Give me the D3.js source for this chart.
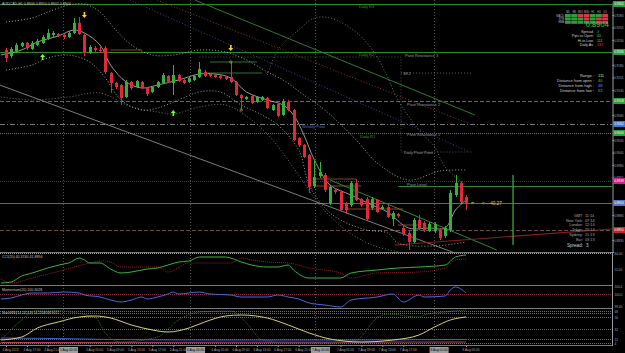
<!DOCTYPE html>
<html>
<head>
<meta charset="utf-8">
<script src="https://cdn.jsdelivr.net/npm/d3@7"></script>
<style>
html, body { margin: 0; padding: 0; background: #000; }
svg { display: block; font-family: "Liberation Sans", "DejaVu Sans", sans-serif; }
</style>
</head>
<body>
<div id="chart"></div>
<script>
// ---------- data (AUDCAD H1) ----------
// one row per bar: [open, high, low, close]
const ohlc = [
  [0.9210,0.9214,0.9186,0.9194],[0.9198,0.9216,0.9194,0.9212],[0.9208,0.9224,0.9204,0.9220],[0.9218,0.9226,0.9216,0.9224],
  [0.9224,0.9226,0.9210,0.9214],[0.9212,0.9228,0.9210,0.9224],[0.9220,0.9232,0.9218,0.9228],[0.9224,0.9240,0.9222,0.9236],
  [0.9232,0.9252,0.9230,0.9244],[0.9240,0.9248,0.9236,0.9244],[0.9242,0.9244,0.9236,0.9238],[0.9240,0.9242,0.9232,0.9236],
  [0.9236,0.9248,0.9234,0.9244],[0.9244,0.9274,0.9242,0.9264],[0.9264,0.9276,0.9240,0.9242],[0.9240,0.9242,0.9198,0.9204],
  [0.9204,0.9220,0.9202,0.9216],[0.9214,0.9218,0.9204,0.9210],[0.9210,0.9216,0.9204,0.9208],[0.9214,0.9218,0.9162,0.9166],
  [0.9164,0.9166,0.9124,0.9144],[0.9144,0.9146,0.9132,0.9136],[0.9140,0.9142,0.9100,0.9114],[0.9116,0.9150,0.9114,0.9146],
  [0.9146,0.9148,0.9130,0.9134],[0.9136,0.9150,0.9134,0.9148],[0.9146,0.9148,0.9132,0.9134],[0.9134,0.9136,0.9118,0.9122],
  [0.9126,0.9138,0.9124,0.9136],[0.9136,0.9148,0.9134,0.9146],[0.9144,0.9164,0.9142,0.9160],[0.9158,0.9160,0.9144,0.9146],
  [0.9144,0.9180,0.9120,0.9160],[0.9160,0.9162,0.9146,0.9148],[0.9150,0.9152,0.9142,0.9144],[0.9146,0.9156,0.9144,0.9154],
  [0.9150,0.9160,0.9148,0.9158],[0.9156,0.9186,0.9154,0.9172],[0.9166,0.9170,0.9156,0.9158],[0.9162,0.9164,0.9156,0.9158],
  [0.9160,0.9162,0.9154,0.9156],[0.9158,0.9160,0.9152,0.9154],[0.9156,0.9158,0.9150,0.9152],[0.9156,0.9186,0.9144,0.9146],
  [0.9146,0.9148,0.9118,0.9120],[0.9120,0.9122,0.9090,0.9114],[0.9112,0.9118,0.9110,0.9116],[0.9118,0.9120,0.9102,0.9104],
  [0.9106,0.9118,0.9104,0.9116],[0.9110,0.9118,0.9108,0.9116],[0.9114,0.9116,0.9092,0.9094],[0.9090,0.9102,0.9088,0.9100],
  [0.9102,0.9104,0.9076,0.9078],[0.9080,0.9112,0.9078,0.9108],[0.9106,0.9110,0.9088,0.9090],[0.9090,0.9092,0.9028,0.9030],
  [0.9034,0.9036,0.9016,0.9020],[0.9020,0.9022,0.8994,0.8996],[0.9000,0.9002,0.8924,0.8936],[0.8938,0.8990,0.8934,0.8956],
  [0.8958,0.8986,0.8954,0.8966],[0.8960,0.8964,0.8926,0.8930],[0.8904,0.8940,0.8900,0.8936],[0.8930,0.8934,0.8922,0.8926],
  [0.8926,0.8930,0.8886,0.8890],[0.8902,0.8906,0.8882,0.8890],[0.8900,0.8948,0.8896,0.8944],[0.8944,0.8952,0.8908,0.8910],
  [0.8912,0.8914,0.8896,0.8900],[0.8912,0.8916,0.8870,0.8872],[0.8894,0.8916,0.8890,0.8912],[0.8910,0.8912,0.8884,0.8886],
  [0.8892,0.8900,0.8890,0.8896],[0.8896,0.8900,0.8874,0.8876],[0.8872,0.8888,0.8858,0.8884],[0.8882,0.8884,0.8874,0.8878],
  [0.8854,0.8858,0.8838,0.8842],[0.8844,0.8848,0.8810,0.8826],[0.8826,0.8874,0.8824,0.8870],[0.8870,0.8880,0.8850,0.8854],
  [0.8864,0.8868,0.8846,0.8850],[0.8848,0.8866,0.8846,0.8862],[0.8848,0.8866,0.8844,0.8862],[0.8850,0.8854,0.8830,0.8834],
  [0.8838,0.8858,0.8834,0.8854],[0.8850,0.8930,0.8846,0.8924],[0.8920,0.8960,0.8916,0.8944],[0.8944,0.8948,0.8904,0.8906],
  [0.8916,0.8920,0.8890,0.8904]
];
const lastPrice = 0.8904;

// moving average and envelope curves: [bar, price]
const maFast = [[-1,0.9200],[3,0.9210],[6,0.9226],[10,0.9238],[13,0.9250],[15,0.9244],[18,0.9220],[20,0.9180],[23,0.9146],
  [26,0.9134],[29,0.9140],[33,0.9150],[37,0.9162],[40,0.9162],[43,0.9154],[46,0.9126],[50,0.9110],[53,0.9100],[55,0.9080],
  [57,0.9040],[59,0.8990],[62,0.8940],[66,0.8920],[70,0.8900],[73,0.8886],[77,0.8854],[81,0.8854],[84,0.8854],[86,0.8890],[88,0.8910]];
const bandUpper = [[0,0.9266],[5,0.9274],[8,0.9286],[12,0.9300],[15,0.9302],[18,0.9286],[21,0.9250],[24,0.9220],[28,0.9200],
  [32,0.9200],[37,0.9210],[42,0.9206],[46,0.9190],[50,0.9166],[53,0.9150],[57,0.9120],[61,0.9090],[67,0.9030],[71,0.8984],
  [77,0.8950],[83,0.8968],[88,0.8970]];
const bandLower = [[0,0.9170],[5,0.9180],[8,0.9194],[12,0.9200],[16,0.9186],[19,0.9154],[22,0.9110],[26,0.9090],[29,0.9094],
  [33,0.9110],[37,0.9126],[41,0.9126],[45,0.9100],[49,0.9080],[52,0.9060],[56,0.9010],[58,0.8940],[61,0.8894],[64,0.8870],
  [69,0.8850],[73,0.8844],[75,0.8824],[82,0.8818],[88,0.8826]];
const outerUpper = [[50,0.9160],[52,0.9210],[56,0.9250],[59,0.9274],[62,0.9274],[65,0.9260],[68,0.9236],[71,0.9196],[73,0.9156],
  [75,0.9110],[79,0.9050],[82,0.9016],[84,0.8976],[88,0.8940]];
const outerLower = [[-1,0.9116],[5,0.9110],[12,0.9116],[18,0.9124],[24,0.9096],[29,0.9086],[32,0.9082],[37,0.9096],[42,0.9100],
  [47,0.9070],[51,0.9030],[56,0.8960],[60,0.8900],[65,0.8850],[70,0.8820],[75,0.8806]];

// trend lines: two anchor points [bar, price]
const trendNames = ["channel", "greenUpper", "redDotted", "blueDotted", "greenLower", "redLower"];
const trendPoints = [
  [[-1.2,0.9140],[85.9,0.8804]],
  [[36.1,0.9310],[89.7,0.9080]],
  [[28.9,0.9310],[88.7,0.9062]],
  [[23.7,0.9310],[88.7,0.9006]],
  [[62.0,0.8950],[93.9,0.8810]],
  [[74.4,0.8820],[115.9,0.8852]]
];

// pivot levels
const levelNames  = ["Daily R3", "Daily R2", "Pivot Resistance 2", "Weekly Pivot", "Daily R1", "Pivot Level", "Bid", "Support"];
const levelPrices = [0.9302, 0.9206, 0.9108, 0.9062, 0.9044, 0.8948, 0.8904, 0.8850];
const dailyPivot = 0.8938;

// short support / resistance segments: [fromBar, toBar, price]
const segGreen = [[38,49,0.9164],[39,48,0.9186]];
const segBrown = [[20,26,0.9210],[59,67,0.8952],[59,68,0.8938],[65,76,0.8892],[75,79,0.8860]];

// fractal arrows and markers
const arrowsUp = [[7,0.9196],[32,0.9084]];
const arrowsDown = [[15,0.9280],[43,0.9214]];
const markers = [[43,0.9186],[45,0.9090]];
const projection = {bar: 97, hi: 0.8960, lo: 0.8820};

// day separators (bar positions) and time axis
const daySeparators = [10.9, 35.2, 59.1, 81.8];
const dayLabels = ["5 Aug 00:00", "6 Aug 00:00", "7 Aug 00:00", "8 Aug 00:00"];
const timeBars = [0,4,8,16,20,24,28,32,40,44,48,52,56,64,68,72,76,88];
const timeLabels = ["4 Aug 2013","4 Aug 17:00","4 Aug 21:00","5 Aug 05:00","5 Aug 09:00","5 Aug 13:00",
  "5 Aug 17:00","5 Aug 21:00","6 Aug 05:00","6 Aug 09:00","6 Aug 13:00","6 Aug 17:00","6 Aug 21:00",
  "7 Aug 05:00","7 Aug 09:00","7 Aug 13:00","7 Aug 17:00","8 Aug 05:00"];
const priceTicks = [0.9280,0.9255,0.9230,0.9180,0.9155,0.9130,0.9080,0.9030,0.9005,0.8980,0.8955,0.8880,0.8830];

// indicator 1 (two lines) : [bar, value]
const ind1Main = [[-1,24],[1,26],[3,38],[5,44],[8,54],[11,62],[12,64],[14,74],[15,70],[16,64],[18,64],[20,52],[22,44],[24,46],
  [27,52],[29,54],[31,60],[33,66],[35,68],[37,76],[40,76],[42,76],[45,66],[47,60],[50,56],[52,56],[54,60],[55,50],[58,34],
  [61,34],[64,34],[66,44],[71,50],[75,54],[79,56],[84,60],[86,76],[88,80]];
const ind1Signal = [[-1,32],[1,24],[5,34],[11,50],[13,56],[19,68],[20,66],[22,56],[29,56],[31,46],[35,64],[37,64],[43,64],
  [45,74],[47,70],[50,66],[54,64],[58,54],[64,44],[66,34],[71,44],[79,46],[84,54],[86,70],[88,72]];
// indicator 2 (momentum)
const momentum = [[-1,99.75],[1,99.80],[3,99.95],[5,100.05],[8,100.05],[11,100.10],[14,100.05],[15,99.95],[18,99.85],[20,99.70],
  [22,99.60],[24,99.70],[26,99.85],[27,99.75],[29,99.85],[31,100.00],[32,100.10],[33,100.00],[37,100.10],[39,100.00],[43,99.95],
  [45,99.85],[50,99.85],[52,99.95],[54,99.85],[56,99.75],[58,99.55],[61,99.45],[64,99.35],[66,99.70],[71,99.85],[74,100.00],
  [76,99.60],[79,99.95],[80,99.85],[84,99.90],[85,100.20],[86,100.35],[88,100.05]];
// indicator 3
const ind3Yellow = [[-1,10],[3,16],[6,34],[10,46],[14,56],[17,58],[20,54],[24,40],[28,30],[31,26],[35,34],[38,46],[42,58],
  [45,60],[50,54],[54,40],[58,24],[62,12],[68,6],[74,10],[79,20],[82,36],[85,50],[88,56]];
const ind3Green = [[-1,10],[3,50],[5,66],[7,70],[17,56],[19,24],[22,6],[29,16],[33,50],[37,66],[43,68],[46,44],[49,10],
  [54,4],[62,4],[67,10],[71,54],[73,62],[79,56],[80,60],[84,66],[88,70]];
const ind3Blue = [[-1,14],[10,13],[20,11],[40,10],[60,10],[88,11]];
const ind3Red = [[-1,5],[88,6]];
const ind3Levels = [68, 64, 56, 32, 12, 4];

// ---------- drawing ----------
const W = 625, H = 353, axisX = 612;
const svg = d3.select("#chart").append("svg").attr("width", W).attr("height", H);
svg.append("rect").attr("width", W).attr("height", H).attr("fill", "#000");

const x = d3.scaleLinear().domain([0, 88]).range([6, 466]);
const y = d3.scaleLinear().domain([0.8806, 0.9306]).range([252, 2]);
const y1 = d3.scaleLinear().domain([20, 84]).range([285, 253]);
const y2 = d3.scaleLinear().domain([99.3, 100.4]).range([308, 286]);
const y3 = d3.scaleLinear().domain([0, 70]).range([345, 310]);

const defs = svg.append("defs");
function clip(id, top, bottom) {
    defs.append("clipPath").attr("id", id).append("rect")
        .attr("x", 0).attr("y", top).attr("width", axisX).attr("height", bottom - top);
}
clip("cMain", 0, 252.5); clip("cP1", 253, 285); clip("cP2", 285.5, 308.5); clip("cP3", 309, 345.5);

const main = svg.append("g").attr("clip-path", "url(#cMain)");
const p1 = svg.append("g").attr("clip-path", "url(#cP1)");
const p2 = svg.append("g").attr("clip-path", "url(#cP2)");
const p3 = svg.append("g").attr("clip-path", "url(#cP3)");

// vertical day separators through all panes
svg.append("g").selectAll("line").data(daySeparators).join("line")
    .attr("x1", d => Math.round(x(d)) + 0.5).attr("x2", d => Math.round(x(d)) + 0.5)
    .attr("y1", 0).attr("y2", 345)
    .attr("stroke", "#6a6a6a").attr("stroke-width", 0.8).attr("stroke-dasharray", "1,2");

// pivot levels
const levelStyle = {
    "Daily R3":           {stroke: "#2f8a2f", dash: null,      box: "#2e9e36", label: "#3c9c3c"},
    "Daily R2":           {stroke: "#2f8a2f", dash: null,      box: "#2e9e36", label: "#3c9c3c"},
    "Pivot Resistance 2": {stroke: "#5d6e4c", dash: "4,2",     box: "#2e9e36", label: "#9a9a9a"},
    "Weekly Pivot":       {stroke: "#7a7a7a", dash: "5,2,1,2", box: "#3d7ad6", label: "#4f72d8"},
    "Daily R1":           {stroke: "#3a8a3a", dash: "1,1",     box: "#2e9e36", label: "#3c9c3c"},
    "Pivot Level":        {stroke: "#7a2040", dash: "1,1",     box: "#d0208c", label: "#9a9a9a"},
    "Bid":                {stroke: "#4b5fc4", dash: null,      box: "#5a78b8", label: null},
    "Support":            {stroke: "#6e4c4c", dash: "4,2",     box: "#c42424", label: null}
};
main.append("g").selectAll("line").data(levelNames).join("line")
    .attr("x1", 0).attr("x2", axisX)
    .attr("y1", (d, i) => Math.round(y(levelPrices[i])) + 0.5)
    .attr("y2", (d, i) => Math.round(y(levelPrices[i])) + 0.5)
    .attr("stroke", d => levelStyle[d].stroke).attr("stroke-width", 1)
    .attr("stroke-dasharray", d => levelStyle[d].dash);

// daily pivot short line + pivot box outline
main.append("line").attr("x1", x(75)).attr("x2", axisX)
    .attr("y1", Math.round(y(dailyPivot)) + 0.5).attr("y2", Math.round(y(dailyPivot)) + 0.5)
    .attr("stroke", "#2f8a2f").attr("stroke-width", 1);
main.append("path")
    .attr("d", `M${x(37)},${y(0.9196)}H401V${y(0.9006)}H472`)
    .attr("fill", "none").attr("stroke", "#777").attr("stroke-width", 0.7).attr("stroke-dasharray", "1,2");
main.append("line").attr("x1", 401).attr("x2", 472).attr("y1", y(0.9164)).attr("y2", y(0.9164))
    .attr("stroke", "#888").attr("stroke-width", 0.7).attr("stroke-dasharray", "1,2");

// trend lines
const trendStyle = {
    channel:    {stroke: "#8a8a8a", dash: null,  w: 0.9},
    greenUpper: {stroke: "#2f7a2f", dash: null,  w: 1},
    redDotted:  {stroke: "#8a3a2a", dash: "1,2", w: 1},
    blueDotted: {stroke: "#3a4a9a", dash: "1,2", w: 1},
    greenLower: {stroke: "#2f8a2f", dash: null,  w: 1},
    redLower:   {stroke: "#8a1f1f", dash: null,  w: 1.2}
};
main.append("g").selectAll("line").data(trendNames).join("line")
    .attr("x1", (d, i) => x(trendPoints[i][0][0])).attr("y1", (d, i) => y(trendPoints[i][0][1]))
    .attr("x2", (d, i) => x(trendPoints[i][1][0])).attr("y2", (d, i) => y(trendPoints[i][1][1]))
    .attr("stroke", d => trendStyle[d].stroke).attr("stroke-width", d => trendStyle[d].w)
    .attr("stroke-dasharray", d => trendStyle[d].dash);

// envelopes and MA
const priceLine = d3.line().x(d => x(d[0])).y(d => y(d[1])).curve(d3.curveCatmullRom);
function curve(g, data, stroke, w, dash, line) {
    g.append("path").datum(data).attr("d", line)
        .attr("fill", "none").attr("stroke", stroke).attr("stroke-width", w).attr("stroke-dasharray", dash);
}
curve(main, outerUpper, "#8c8c8c", 0.8, "1,2", priceLine);
curve(main, outerLower, "#8c8c8c", 0.8, "1,2", priceLine);
curve(main, bandUpper, "#c8c8c8", 0.8, "1,2", priceLine);
curve(main, bandLower, "#c8c8c8", 0.8, "1,2", priceLine);
curve(main, maFast, "#bdbdbd", 0.8, null, priceLine);

// short segments
main.append("g").selectAll("line").data(segGreen).join("line")
    .attr("x1", d => x(d[0])).attr("x2", d => x(d[1])).attr("y1", d => y(d[2])).attr("y2", d => y(d[2]))
    .attr("stroke", "#3c8f3c").attr("stroke-width", 0.8);
main.append("g").selectAll("line").data(segBrown).join("line")
    .attr("x1", d => x(d[0])).attr("x2", d => x(d[1])).attr("y1", d => y(d[2])).attr("y2", d => y(d[2]))
    .attr("stroke", "#a0583a").attr("stroke-width", 0.8);

// candles
const bull = "#35b03a", bear = "#e02a3c";
const bars = main.append("g").selectAll("g").data(ohlc).join("g");
bars.append("line")
    .attr("x1", (d, i) => Math.round(x(i)) + 0.5).attr("x2", (d, i) => Math.round(x(i)) + 0.5)
    .attr("y1", d => y(d[1])).attr("y2", d => y(d[2]))
    .attr("stroke", d => d[3] >= d[0] ? bull : bear).attr("stroke-width", 1);
bars.append("rect")
    .attr("x", (d, i) => Math.round(x(i)) - 1).attr("width", 3)
    .attr("y", d => y(Math.max(d[0], d[3])))
    .attr("height", d => Math.max(1, Math.abs(y(d[0]) - y(d[3]))))
    .attr("fill", d => d[3] >= d[0] ? bull : bear);

// fractal arrows
function arrow(g, data, up, color) {
    g.append("g").selectAll("path").data(data).join("path")
        .attr("transform", d => `translate(${x(d[0])},${y(d[1])})`)
        .attr("d", up ? "M0,-3L-2.5,0H-0.8V3H0.8V0H2.5Z" : "M0,3L-2.5,0H-0.8V-3H0.8V0H2.5Z")
        .attr("fill", color);
}
arrow(main, arrowsUp, true, "#7dff2a");
arrow(main, arrowsDown, false, "#ffd21e");
main.append("g").selectAll("circle").data(markers).join("circle")
    .attr("cx", d => x(d[0])).attr("cy", d => y(d[1])).attr("r", 1.2)
    .attr("fill", "none").attr("stroke", "#d8b030").attr("stroke-width", 0.6);

// projection line and distance note
main.append("line").attr("x1", x(projection.bar)).attr("x2", x(projection.bar))
    .attr("y1", y(projection.hi)).attr("y2", y(projection.lo))
    .attr("stroke", "#3ca83c").attr("stroke-width", 1.3);
main.append("rect").attr("x", x(89)).attr("y", y(lastPrice) - 1).attr("width", 3).attr("height", 2).attr("fill", "#3ca83c");
main.append("text").attr("x", x(91)).attr("y", y(lastPrice) + 1.5)
    .attr("fill", "#e8d030").attr("font-size", 4.6).text("<-- -40.27");

// level labels on the chart
const txt = (g, x0, y0, s, color, size, anchor) => g.append("text").attr("x", x0).attr("y", y0)
    .attr("fill", color).attr("font-size", size || 4).attr("text-anchor", anchor || "start").text(s);
txt(main, 359, y(levelPrices[0]) + 4, "Daily R3", levelStyle["Daily R3"].label);
txt(main, 359, y(levelPrices[1]) + 4, "Daily R2", levelStyle["Daily R2"].label);
txt(main, 405, y(levelPrices[1]) + 4.5, "Pivot Resistance 3", "#9a9a9a");
txt(main, 403, y(0.9164) + 1.5, "38.2", "#9a9a9a");
txt(main, 407, y(levelPrices[2]) + 4.5, "Pivot Resistance 2", levelStyle["Pivot Resistance 2"].label);
txt(main, 302, y(levelPrices[3]) + 4, "Weekly Pivot", levelStyle["Weekly Pivot"].label);
txt(main, 360, y(levelPrices[4]) + 4.5, "Daily R1", levelStyle["Daily R1"].label);
txt(main, 407, y(levelPrices[4]) + 2.5, "Pivot Resistance 1", "#9a9a9a");
txt(main, 404, y(0.9006) + 2, "Daily Pivot Point", "#9a9a9a");
txt(main, 407, y(levelPrices[5]) + 5, "Pivot Level", levelStyle["Pivot Level"].label);

// title
txt(svg, 2, 5, "AUDCAD,H1  0.8906 0.8910 0.8902 0.8904", "#c8c8c8", 3.6);

// ---------- indicator panes ----------
const lineOf = sc => d3.line().x(d => x(d[0])).y(d => sc(d[1])).curve(d3.curveMonotoneX);
// pane 1
p1.append("line").attr("x1", 0).attr("x2", axisX).attr("y1", 253.5).attr("y2", 253.5)
    .attr("stroke", "#a8a878").attr("stroke-dasharray", "1,1").attr("stroke-width", 1);
curve(p1, ind1Signal, "#a0282a", 0.9, "1,1", lineOf(y1));
curve(p1, ind1Main, "#3cb43c", 1, null, lineOf(y1));
txt(svg, 2, 258, "CCI(20) 40.3740 41.8894", "#c0c0c0", 3.6);
// pane 2
p2.append("line").attr("x1", 0).attr("x2", axisX).attr("y1", Math.round(y2(100)) + 0.5).attr("y2", Math.round(y2(100)) + 0.5)
    .attr("stroke", "#8a2a3a").attr("stroke-dasharray", "1,1").attr("stroke-width", 1);
curve(p2, momentum, "#4a6ad8", 1, null, lineOf(y2));
txt(svg, 2, 290.5, "Momentum(20) 100.3028", "#c0c0c0", 3.6);
// pane 3
p3.append("g").selectAll("line").data(ind3Levels).join("line")
    .attr("x1", 0).attr("x2", axisX)
    .attr("y1", d => Math.round(y3(d)) + 0.5).attr("y2", d => Math.round(y3(d)) + 0.5)
    .attr("stroke", "#8a8a8a").attr("stroke-dasharray", "1,1").attr("stroke-width", 0.8);
curve(p3, ind3Red, "#c0405a", 1, null, lineOf(y3));
curve(p3, ind3Blue, "#4a5ad0", 1, null, lineOf(y3));
curve(p3, ind3Green, "#3a7a3a", 0.9, "1,1", lineOf(y3));
curve(p3, ind3Yellow, "#d8d078", 1, null, lineOf(y3));
txt(svg, 2, 313.5, "StochRSI(14,14,3,3) 54.2108 68.9012", "#c0c0c0", 3.4);

// pane separators
svg.append("g").selectAll("line").data([252.5, 285.5, 308.5, 345.5]).join("line")
    .attr("x1", 0).attr("x2", axisX).attr("y1", d => d).attr("y2", d => d)
    .attr("stroke", "#9a9a9a").attr("stroke-width", 0.8);

// ---------- right price axis ----------
const axisG = svg.append("g").attr("transform", `translate(${axisX + 0.5},0)`)
    .call(d3.axisRight(y).tickValues(priceTicks).tickSize(1.5).tickPadding(1).tickFormat(d3.format(".4f")));
axisG.select(".domain").attr("stroke", "#9a9a9a");
axisG.selectAll(".tick line").attr("stroke", "#9a9a9a");
axisG.selectAll(".tick text").attr("fill", "#a8a8a8").attr("font-size", 3.1).attr("x", 1.5);
svg.append("line").attr("x1", axisX + 0.5).attr("x2", axisX + 0.5).attr("y1", 252).attr("y2", 346).attr("stroke", "#9a9a9a");

// coloured level boxes on the axis
const boxes = svg.append("g").selectAll("g").data(levelNames).join("g")
    .attr("transform", (d, i) => `translate(${axisX + 1},${Math.round(y(levelPrices[i]))})`);
boxes.append("rect").attr("x", 0).attr("y", -3).attr("width", 12).attr("height", 6).attr("fill", d => levelStyle[d].box);
boxes.append("text").attr("x", 6).attr("y", 1.2).attr("text-anchor", "middle")
    .attr("fill", "#fff").attr("font-size", 3.1).text((d, i) => levelPrices[i].toFixed(4));

// pane axis labels
const paneTicks = [[y1(84), "84.00"], [y1(52), "52.00"], [y2(100.4), "100.4"], [y2(100), "100.0"], [y2(99.4), "99.40"],
    [y3(68), "68"], [y3(56), "56"], [y3(32), "32"], [y3(12), "12"], [y3(4), "4"]];
svg.append("g").selectAll("text").data(paneTicks).join("text")
    .attr("x", axisX + 2.5).attr("y", d => d[0] + 1.5).attr("fill", "#a8a8a8").attr("font-size", 3.1).text(d => d[1]);

// ---------- time axis ----------
const tAxis = svg.append("g").attr("transform", "translate(0,345.5)")
    .call(d3.axisBottom(x).tickValues(timeBars).tickSize(1.5).tickFormat((d, i) => timeLabels[i]));
tAxis.select(".domain").remove();
tAxis.selectAll(".tick line").attr("stroke", "#9a9a9a");
tAxis.selectAll(".tick text").attr("fill", "#a8a8a8").attr("font-size", 3.2).attr("x", -4).attr("y", 3).attr("dy", "0.7em")
    .attr("text-anchor", "start");
const dayBox = svg.append("g").selectAll("g").data(daySeparators).join("g")
    .attr("transform", d => `translate(${x(d) - 4},347)`);
dayBox.append("rect").attr("width", 19).attr("height", 6).attr("fill", "#a0a0a0");
dayBox.append("text").attr("x", 9.5).attr("y", 4.3).attr("text-anchor", "middle")
    .attr("fill", "#000").attr("font-size", 3.2).text((d, i) => dayLabels[i]);

// ---------- info panels ----------
// multi timeframe table
const tfNames = ["M1", "M5", "M15", "M30", "H1", "H4", "D1"];
const tfRows = ["MACD", "STR", "EMA"];
const tfSignals = [[1,1,0,0,1,1,0],[1,1,1,0,1,0,0],[1,1,1,1,1,0,0]];
const tfG = svg.append("g").attr("transform", "translate(565,11)");
tfG.selectAll("text.h").data(tfNames).join("text").attr("class", "h")
    .attr("x", (d, i) => i * 6.2 + 3).attr("y", 2).attr("text-anchor", "middle")
    .attr("fill", "#bbb").attr("font-size", 2.6).text(d => d);
tfG.selectAll("text.r").data(tfRows).join("text").attr("class", "r")
    .attr("x", -1).attr("y", (d, i) => 5.5 + i * 3.4).attr("text-anchor", "end")
    .attr("fill", "#bbb").attr("font-size", 2.6).text(d => d);
tfSignals.forEach((row, r) => {
    tfG.append("g").selectAll("rect").data(row).join("rect")
        .attr("x", (d, i) => i * 6.2).attr("y", 3 + r * 3.4).attr("width", 5.8).attr("height", 3)
        .attr("fill", d => d ? "#2f9e3a" : "#d8364c");
});
txt(svg, 609, 27, "0.8904", "#36d636", 7.6, "end");
const stats = [["Spread", "3", "#4d7dff"], ["Pips to Open", "40", "#3cd03c"], ["Hi to Low", "111", "#7fa8ff"], ["Daily Av", "137", "#ff3030"]];
stats.forEach((s, i) => {
    txt(svg, 593, 32.8 + i * 4.5, s[0], "#cfcfcf", 3.7, "end");
    txt(svg, 597, 32.8 + i * 4.5, s[1], s[2], 3.7);
});
const dist = [["Range :", "111", "#e8e040"], ["Distance from open :", "40", "#3cd03c"],
    ["Distance from high :", "48", "#5a8aff"], ["Distance from low :", "63", "#4aa0e0"]];
dist.forEach((s, i) => {
    txt(svg, 594, 77 + i * 4.9, s[0], "#cfcfcf", 4, "end");
    txt(svg, 598, 77 + i * 4.9, s[1], s[2], 4);
});
const clocks = [["GMT:", "11:14"], ["New York:", "07:14"], ["London:", "12:14"], ["Tokyo:", "20:14"], ["Sydney:", "21:13"], ["Bar:", "03:13"]];
clocks.forEach((s, i) => {
    txt(svg, 583, 217 + i * 4.7, s[0], "#a8a8a8", 3.8, "end");
    txt(svg, 585, 217 + i * 4.7, s[1], "#a8a8a8", 3.8);
});
txt(svg, 583, 247, "Spread:", "#d0d0d0", 4.6, "end");
txt(svg, 586, 247, "3", "#d0d0d0", 4.6);
</script>
</body>
</html>
